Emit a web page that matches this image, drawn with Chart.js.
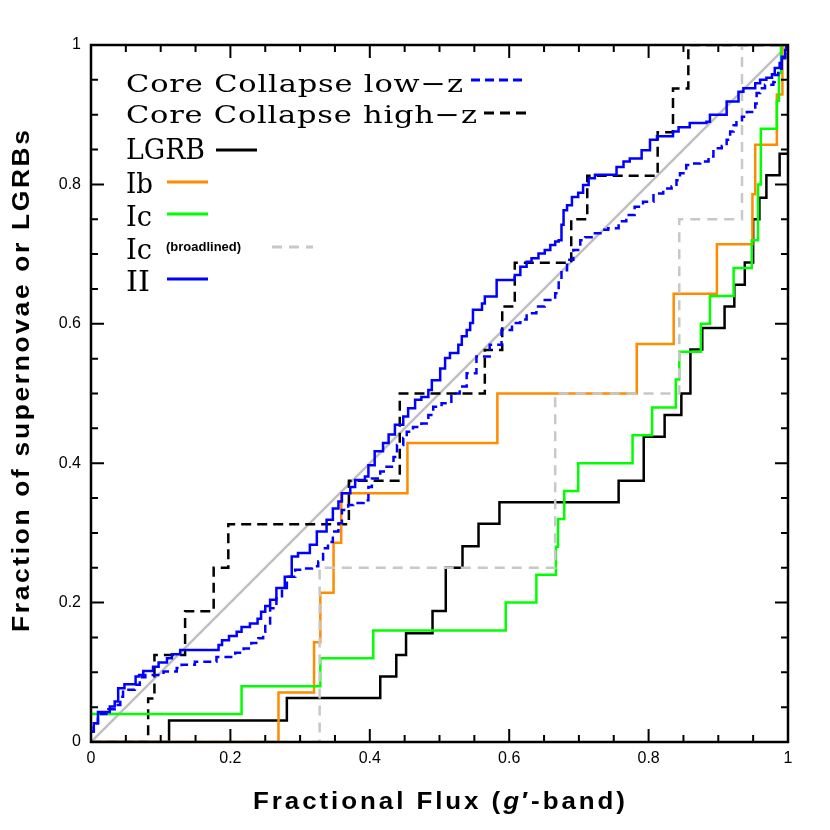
<!DOCTYPE html>
<html>
<head>
<title>Fractional flux CDF</title>
<script src="https://cdn.jsdelivr.net/npm/chart.js"></script>
<style>
  body { margin: 0; background: #fff; }
</style>
</head>
<body>
<canvas id="fluxChart" width="830" height="830"></canvas>
<script>
// step points: x = fractional flux where the step happens, y = fraction after it
const lowzX = [0, 0.004, 0.010, 0.025, 0.034, 0.042, 0.046, 0.063, 0.070, 0.078, 0.104, 0.123, 0.130, 0.149, 0.180, 0.207, 0.219, 0.230, 0.240, 0.247, 0.250, 0.257, 0.266, 0.274, 0.281, 0.293, 0.302, 0.317, 0.326, 0.333, 0.340, 0.347, 0.355, 0.360, 0.369, 0.376, 0.391, 0.398, 0.403, 0.415, 0.424, 0.434, 0.439, 0.448, 0.453, 0.462, 0.474, 0.484, 0.491, 0.503, 0.517, 0.529, 0.539, 0.553, 0.572, 0.589, 0.604, 0.616, 0.625, 0.639, 0.651, 0.666, 0.671, 0.675, 0.683, 0.692, 0.702, 0.709, 0.721, 0.733, 0.742, 0.757, 0.768, 0.780, 0.792, 0.807, 0.821, 0.833, 0.840, 0.845, 0.854, 0.862, 0.874, 0.886, 0.893, 0.905, 0.912, 0.917, 0.922, 0.926, 0.934, 0.941, 0.953, 0.955, 0.960, 0.967, 0.979, 0.981, 0.986, 0.991, 0.996, 0.998];
const lowzY = [0.015, 0.027, 0.040, 0.047, 0.053, 0.065, 0.075, 0.082, 0.093, 0.096, 0.101, 0.106, 0.111, 0.115, 0.122, 0.128, 0.134, 0.142, 0.149, 0.158, 0.170, 0.192, 0.209, 0.221, 0.237, 0.247, 0.249, 0.252, 0.259, 0.278, 0.287, 0.302, 0.314, 0.333, 0.340, 0.343, 0.347, 0.366, 0.378, 0.388, 0.395, 0.409, 0.426, 0.436, 0.445, 0.452, 0.457, 0.469, 0.481, 0.486, 0.500, 0.510, 0.529, 0.553, 0.570, 0.591, 0.601, 0.606, 0.615, 0.625, 0.634, 0.644, 0.663, 0.677, 0.692, 0.706, 0.720, 0.724, 0.730, 0.735, 0.737, 0.747, 0.756, 0.768, 0.775, 0.787, 0.794, 0.797, 0.806, 0.816, 0.828, 0.830, 0.833, 0.840, 0.852, 0.855, 0.864, 0.876, 0.885, 0.892, 0.897, 0.904, 0.916, 0.931, 0.938, 0.943, 0.947, 0.957, 0.966, 0.981, 0.993, 1.0];

const hizX = [0, 0.082, 0.091, 0.135, 0.176, 0.197, 0.370, 0.443, 0.565, 0.590, 0.608, 0.689, 0.712, 0.813, 0.835, 0.857, 1.0];
const hizY = [0, 0.0625, 0.125, 0.1875, 0.25, 0.3125, 0.375, 0.5, 0.5625, 0.625, 0.6875, 0.75, 0.8125, 0.875, 0.9375, 1.0, 1.0];

const lgrbX = [0, 0.112, 0.281, 0.415, 0.438, 0.452, 0.490, 0.509, 0.533, 0.556, 0.586, 0.757, 0.793, 0.823, 0.847, 0.860, 0.877, 0.909, 0.923, 0.938, 0.950, 0.959, 0.969, 0.988, 1.0];
const lgrbY = [0, 0.031, 0.063, 0.094, 0.125, 0.156, 0.188, 0.25, 0.281, 0.313, 0.344, 0.375, 0.438, 0.469, 0.5, 0.563, 0.594, 0.625, 0.656, 0.688, 0.75, 0.781, 0.813, 0.844, 0.844];

const ibX = [0, 0.269, 0.320, 0.329, 0.348, 0.359, 0.454, 0.583, 0.783, 0.836, 0.898, 0.949, 0.953, 0.984, 0.992, 1.0];
const ibY = [0, 0.071, 0.143, 0.214, 0.286, 0.357, 0.429, 0.5, 0.571, 0.643, 0.714, 0.786, 0.857, 0.929, 1.0, 1.0];

const icX = [0, 0.216, 0.329, 0.405, 0.595, 0.639, 0.667, 0.670, 0.679, 0.699, 0.777, 0.805, 0.839, 0.844, 0.875, 0.888, 0.922, 0.948, 0.957, 0.961, 0.984, 0.987, 0.990, 1.0];
const icY = [0.04, 0.08, 0.12, 0.16, 0.20, 0.24, 0.28, 0.32, 0.36, 0.40, 0.44, 0.48, 0.52, 0.56, 0.60, 0.64, 0.68, 0.72, 0.80, 0.88, 0.92, 0.96, 1.0, 1.0];

const icblX = [0, 0.328, 0.666, 0.844, 0.934, 1.0];
const icblY = [0, 0.25, 0.5, 0.75, 1.0, 1.0];

const iiX = [0, 0.004, 0.010, 0.027, 0.034, 0.039, 0.048, 0.064, 0.069, 0.075, 0.089, 0.097, 0.109, 0.116, 0.128, 0.183, 0.188, 0.198, 0.209, 0.216, 0.228, 0.239, 0.244, 0.250, 0.257, 0.266, 0.278, 0.288, 0.297, 0.314, 0.324, 0.338, 0.347, 0.355, 0.360, 0.372, 0.379, 0.393, 0.398, 0.407, 0.419, 0.427, 0.436, 0.448, 0.455, 0.465, 0.474, 0.484, 0.489, 0.501, 0.508, 0.515, 0.527, 0.532, 0.539, 0.544, 0.548, 0.561, 0.565, 0.582, 0.608, 0.616, 0.625, 0.632, 0.642, 0.651, 0.659, 0.666, 0.671, 0.675, 0.678, 0.683, 0.690, 0.699, 0.706, 0.714, 0.723, 0.754, 0.764, 0.773, 0.790, 0.802, 0.812, 0.835, 0.843, 0.859, 0.883, 0.888, 0.912, 0.929, 0.936, 0.953, 0.960, 0.969, 0.977, 0.981, 0.988, 0.991, 0.996, 0.998];
const iiY = [0.015, 0.027, 0.043, 0.051, 0.058, 0.077, 0.083, 0.094, 0.096, 0.102, 0.108, 0.114, 0.120, 0.126, 0.132, 0.139, 0.146, 0.152, 0.158, 0.165, 0.170, 0.177, 0.187, 0.195, 0.204, 0.221, 0.237, 0.266, 0.271, 0.283, 0.302, 0.319, 0.335, 0.345, 0.357, 0.366, 0.376, 0.381, 0.397, 0.417, 0.429, 0.441, 0.455, 0.467, 0.479, 0.491, 0.495, 0.505, 0.519, 0.536, 0.551, 0.558, 0.570, 0.582, 0.591, 0.601, 0.620, 0.629, 0.639, 0.663, 0.670, 0.682, 0.689, 0.694, 0.701, 0.706, 0.713, 0.718, 0.720, 0.742, 0.763, 0.770, 0.782, 0.788, 0.799, 0.809, 0.814, 0.825, 0.833, 0.837, 0.849, 0.864, 0.869, 0.876, 0.882, 0.888, 0.890, 0.900, 0.919, 0.933, 0.938, 0.945, 0.950, 0.953, 0.958, 0.967, 0.974, 0.983, 0.993, 1.0];

const diagX = [0, 1];
const diagY = [0, 1];

const legendLabels = ['Core Collapse low\u2212z', 'Core Collapse high\u2212z', 'LGRB', 'Ib', 'Ic', 'Ic', 'II'];
const xTitle = ['Fractional Flux (', 'g', '\u2032-band)'];
const yTitle = 'Fraction of supernovae or LGRBs';

function pts(xs, ys) {
    return xs.map((x, i) => ({ x: x, y: ys[i] }));
}

function stepLine(xs, ys, color, dash, order) {
    return {
        data: pts(xs, ys),
        borderColor: color,
        borderWidth: 2.5,
        borderDash: dash,
        stepped: 'before',
        pointRadius: 0,
        fill: false,
        order: order
    };
}

// draw text char by char with extra spacing, parts = [[text, font], ...]
function spaced(ctx, parts, x, y, extra, draw) {
    for (const [t, f] of parts) {
        ctx.font = f;
        for (const ch of t) {
            if (draw) ctx.fillText(ch, x, y);
            x += ctx.measureText(ch).width + extra;
        }
    }
    return x;
}

// stretch glyphs (up to maxStretch) and spread letters so the text spans width
function fitted(ctx, parts, x, y, width, center, maxStretch) {
    const n = parts.reduce((s, p) => s + [...p[0]].length, 0);
    const w = spaced(ctx, parts, 0, 0, 0, false);
    const s = Math.min(width / w, maxStretch || 1);
    const extra = n > 1 ? (width / s - w) / (n - 1) : 0;
    ctx.save();
    ctx.translate(center ? x - width / 2 : x, y);
    ctx.scale(s, 1);
    spaced(ctx, parts, 0, 0, extra, true);
    ctx.restore();
}

const decorations = {
    id: 'decorations',
    afterDraw(chart) {
        const { ctx, chartArea: a, scales } = chart;
        const xs = scales.x, ys = scales.y;
        ctx.save();
        ctx.strokeStyle = '#000';
        ctx.fillStyle = '#000';
        ctx.lineWidth = 2;
        ctx.setLineDash([]);

        const major = v => Math.abs(v * 5 - Math.round(v * 5)) < 1e-6;
        xs.ticks.forEach(t => {
            const px = xs.getPixelForValue(t.value);
            const len = major(t.value) ? 13 : 7;
            ctx.beginPath();
            ctx.moveTo(px, a.bottom); ctx.lineTo(px, a.bottom - len);
            ctx.moveTo(px, a.top); ctx.lineTo(px, a.top + len);
            ctx.stroke();
        });
        ys.ticks.forEach(t => {
            const py = ys.getPixelForValue(t.value);
            const len = major(t.value) ? 13 : 7;
            ctx.beginPath();
            ctx.moveTo(a.left, py); ctx.lineTo(a.left + len, py);
            ctx.moveTo(a.right, py); ctx.lineTo(a.right - len, py);
            ctx.stroke();
        });
        ctx.lineWidth = 2.5;
        ctx.strokeRect(a.left, a.top, a.right - a.left, a.bottom - a.top);

        // axis titles
        ctx.textBaseline = 'alphabetic';
        ctx.textAlign = 'left';
        const bold = 'bold 24px "Liberation Sans", Arial, sans-serif';
        const boldIt = 'italic bold 24px "Liberation Sans", Arial, sans-serif';
        fitted(ctx, [[xTitle[0], bold], [xTitle[1], boldIt], [xTitle[2], bold]], 439, 809, 372, true, 1.08);
        ctx.save();
        ctx.translate(29, 381);
        ctx.rotate(-Math.PI / 2);
        fitted(ctx, [[yTitle, bold]], 0, 0, 502, true, 1.1);
        ctx.restore();

        // legend
        const serif = s => s + 'px "DejaVu Serif", serif';
        const rows = [
            { color: '#0000ff', dash: [9, 5], base: 92, ly: 80, lx: 471, len: 54, font: serif(25), width: 337 },
            { color: '#000000', dash: [10, 6], base: 123, ly: 113, lx: 484, len: 44, font: serif(25), width: 351 },
            { color: '#000000', dash: [], base: 159, ly: 150, lx: 216, len: 41, font: serif(28), width: 79 },
            { color: '#ff8c00', dash: [], base: 193, ly: 182, lx: 167, len: 41, font: serif(27), width: 27 },
            { color: '#00ff00', dash: [], base: 226, ly: 214, lx: 167, len: 41, font: serif(27), width: 26 },
            { color: '#c8c8c8', dash: [10, 7], base: 259, ly: 247, lx: 272, len: 41, font: serif(27), width: 26 },
            { color: '#0000ff', dash: [], base: 291, ly: 279, lx: 167, len: 41, font: serif(28), width: 24 }
        ];
        rows.forEach((r, i) => {
            ctx.fillStyle = '#000';
            fitted(ctx, [[legendLabels[i], r.font]], 126, r.base, r.width, false, 1.22);
            ctx.strokeStyle = r.color;
            ctx.lineWidth = 3;
            ctx.setLineDash(r.dash);
            ctx.beginPath();
            ctx.moveTo(r.lx, r.ly); ctx.lineTo(r.lx + r.len, r.ly);
            ctx.stroke();
        });
        ctx.fillStyle = '#000';
        ctx.font = 'bold 13px "Liberation Sans", Arial, sans-serif';
        ctx.fillText('(broadlined)', 166, 251);
        ctx.restore();
    }
};

const tickLabel = v => {
    if (Math.abs(v * 5 - Math.round(v * 5)) > 1e-6) return '';
    if (Math.abs(v) < 1e-6) return '0';
    if (Math.abs(v - 1) < 1e-6) return '1';
    return v.toFixed(1);
};

const ctx = document.getElementById('fluxChart').getContext('2d');
const chart = new Chart(ctx, {
    type: 'line',
    data: {
        datasets: [
            { data: pts(diagX, diagY), borderColor: '#c0c0c0', borderWidth: 2.5, pointRadius: 0, fill: false, order: 10 },
            stepLine(hizX, hizY, '#000000', [10, 6], 9),
            stepLine(lgrbX, lgrbY, '#000000', [], 8),
            stepLine(ibX, ibY, '#ff8c00', [], 7),
            stepLine(icX, icY, '#00ff00', [], 6),
            stepLine(icblX, icblY, '#c8c8c8', [10, 7], 5),
            stepLine(lowzX, lowzY, '#0000ff', [8, 5], 4),
            stepLine(iiX, iiY, '#0000ff', [], 3)
        ]
    },
    options: {
        responsive: false,
        animation: false,
        layout: { padding: { left: 0, top: 45, right: 42, bottom: 0 } },
        plugins: { legend: { display: false }, tooltip: { enabled: false } },
        scales: {
            x: {
                type: 'linear',
                min: 0, max: 1,
                grid: { display: false, drawTicks: false },
                border: { display: false },
                ticks: {
                    stepSize: 0.05, autoSkip: false, maxRotation: 0,
                    padding: 7, color: '#000',
                    font: { family: '"Liberation Sans", Arial, sans-serif', size: 16 },
                    callback: tickLabel
                },
                afterFit: s => { s.height = 88; }
            },
            y: {
                type: 'linear',
                min: 0, max: 1,
                grid: { display: false, drawTicks: false },
                border: { display: false },
                ticks: {
                    stepSize: 0.05, autoSkip: false,
                    padding: 10, color: '#000',
                    font: { family: '"Liberation Sans", Arial, sans-serif', size: 16 },
                    callback: tickLabel
                },
                afterFit: s => { s.width = 91; }
            }
        }
    },
    plugins: [decorations]
});
</script>
</body>
</html>
